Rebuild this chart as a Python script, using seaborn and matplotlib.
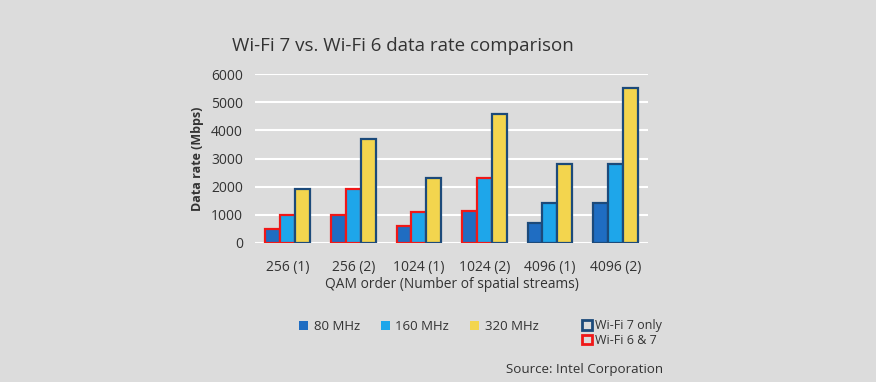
import matplotlib
matplotlib.use("Agg")
import matplotlib.pyplot as plt
from matplotlib.patches import Patch
import seaborn as sns
import pandas as pd

categories = ["256 (1)", "256 (2)", "1024 (1)", "1024 (2)", "4096 (1)", "4096 (2)"]
bandwidths = ["80 MHz", "160 MHz", "320 MHz"]
rate_80 = [480, 980, 600, 1150, 720, 1420]
rate_160 = [980, 1900, 1100, 2300, 1420, 2800]
rate_320 = [1900, 3700, 2300, 4600, 2800, 5500]
# support per bar: True = Wi-Fi 6 & 7, False = Wi-Fi 7 only
wifi6_80 = [True, True, True, True, False, False]
wifi6_160 = [True, True, True, True, False, False]
wifi6_320 = [False, False, False, False, False, False]

bg = "#dcdcdc"
colors = ["#1f6dc2", "#1ea6ea", "#f3d54e"]
navy = "#1c4a7a"
red = "#f01818"

df = pd.DataFrame({
    "cat": categories * 3,
    "bw": [b for b in bandwidths for _ in categories],
    "rate": rate_80 + rate_160 + rate_320,
})

sns.set_theme(style="white")
plt.rcParams["font.family"] = ["Open Sans", "DejaVu Sans"]

fig = plt.figure(figsize=(8.76, 3.82), dpi=100, facecolor=bg)
ax = fig.add_axes([0.291, 0.364, 0.449, 0.442])
ax.set_facecolor(bg)

sns.barplot(data=df, x="cat", y="rate", hue="bw", order=categories,
            hue_order=bandwidths, palette=colors, width=0.68, ax=ax,
            legend=False, saturation=1)

support = [wifi6_80, wifi6_160, wifi6_320]
for cont, sup in zip(ax.containers, support):
    for bar, s in zip(cont, sup):
        bar.set_edgecolor(red if s else navy)
        bar.set_linewidth(1.6)

ax.set_ylim(0, 6000)
ax.set_yticks(range(0, 6001, 1000))
ax.yaxis.grid(True, color="white", linewidth=1.5)
ax.set_axisbelow(True)
for s in ax.spines.values():
    s.set_visible(False)
ax.tick_params(axis="both", length=0, colors="#333333", labelsize=10)
ax.tick_params(axis="x", pad=12.5)
ax.tick_params(axis="y", pad=8.5)
ax.set_xlabel("QAM order (Number of spatial streams)", fontsize=9.9, color="#333333", labelpad=1.5)
ax.set_ylabel("Data rate (Mbps)", fontsize=9, color="#333333", fontweight="bold", labelpad=5)

fig.text(0.265, 0.88, "Wi-Fi 7 vs. Wi-Fi 6 data rate comparison", fontsize=13.5, color="#333333",
         ha="left", va="center")

h1 = [Patch(facecolor=c, edgecolor="none") for c in colors]
fig.legend(h1, bandwidths, loc="center", bbox_to_anchor=(0.478, 0.145), ncol=3, frameon=False,
           handlelength=0.7, handleheight=0.7, handletextpad=0.4, columnspacing=1.6,
           fontsize=9.5, labelcolor="#333333")
h2 = [Patch(facecolor="none", edgecolor=navy, linewidth=2),
      Patch(facecolor="none", edgecolor=red, linewidth=2)]
fig.legend(h2, ["Wi-Fi 7 only", "Wi-Fi 6 & 7"], loc="center", bbox_to_anchor=(0.71, 0.128), ncol=1,
           frameon=False, handlelength=0.8, handleheight=0.8, handletextpad=0.3, labelspacing=0.15,
           fontsize=9, labelcolor="#333333")

fig.text(0.757, 0.034, "Source: Intel Corporation", fontsize=9.6, color="#333333", ha="right", va="center")

fig.savefig("out.png", dpi=100, facecolor=bg)
